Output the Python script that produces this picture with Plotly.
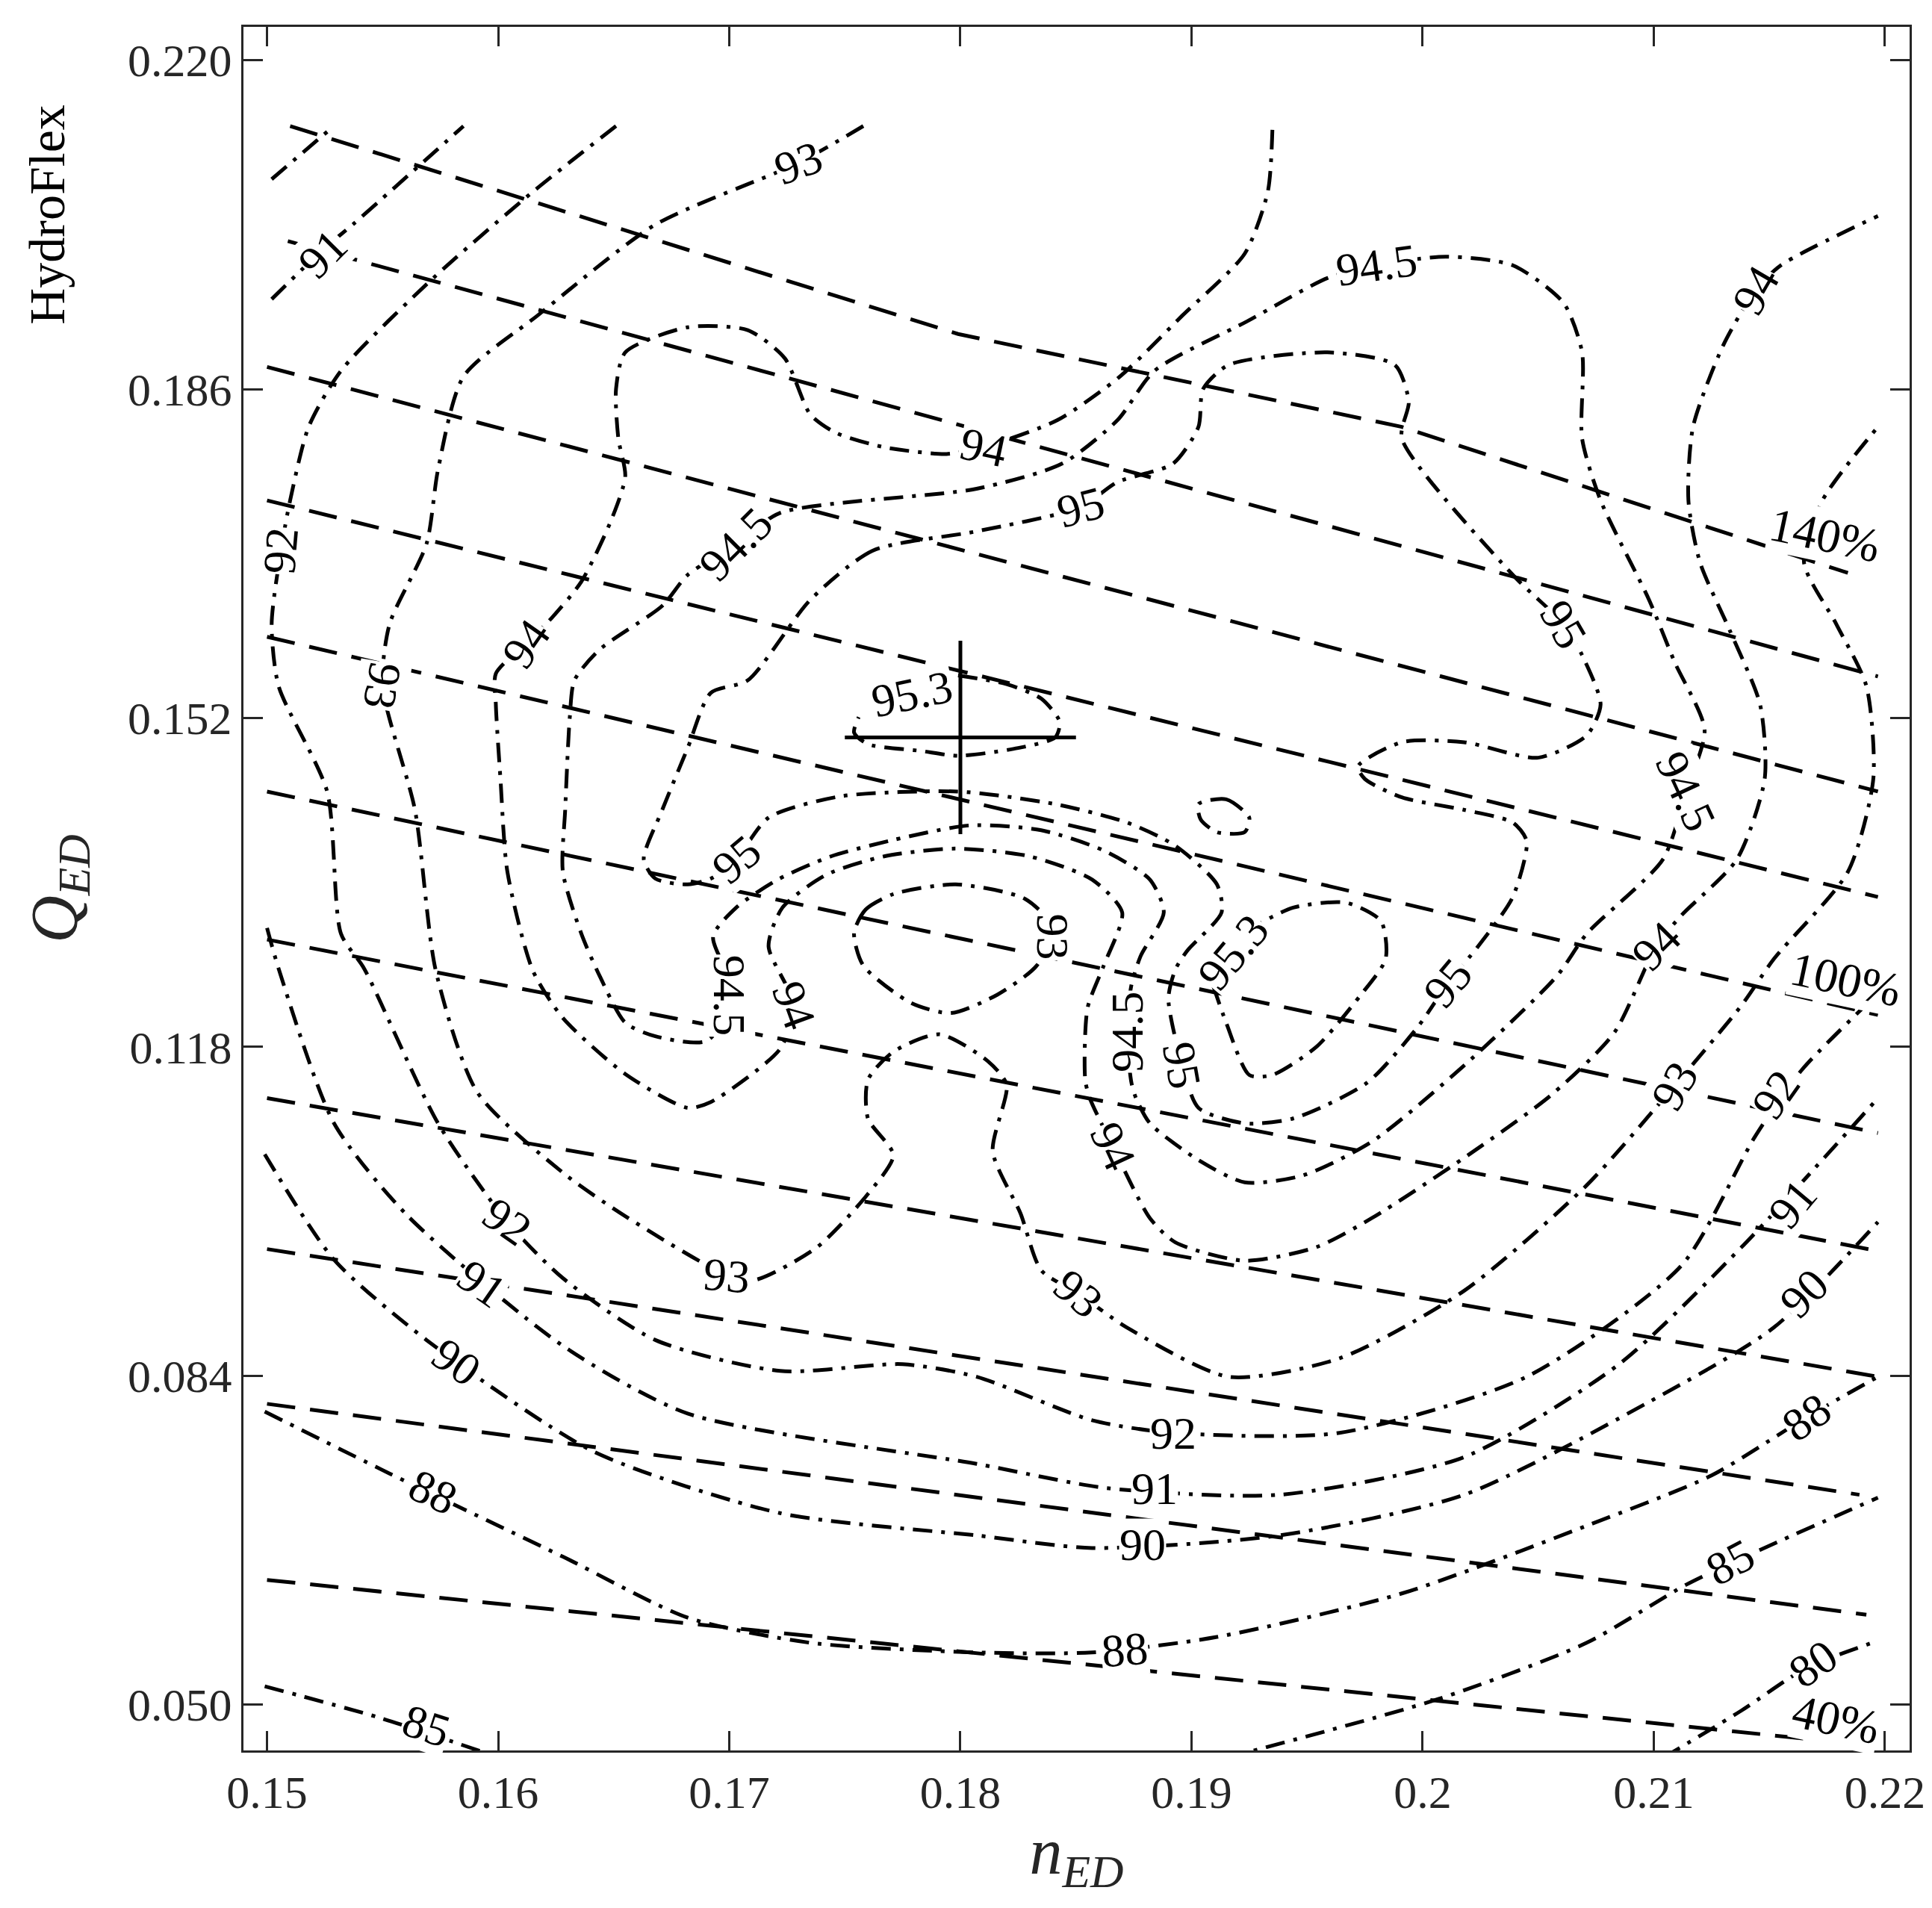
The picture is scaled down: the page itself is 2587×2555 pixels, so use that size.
import plotly.graph_objects as go

# ---- data ----
x_ticks = [0.15, 0.16, 0.17, 0.18, 0.19, 0.20, 0.21, 0.22]
x_tick_text = ["0.15", "0.16", "0.17", "0.18", "0.19", "0.2", "0.21", "0.22"]
y_ticks = [0.050, 0.084, 0.118, 0.152, 0.186, 0.220]

# guide vane opening lines (dashed)
opening_x = [
    [0.1510, 0.1799, 0.1991, 0.2138, 0.2184],
    [0.1509, 0.2197],
    [0.1500, 0.2197],
    [0.1500, 0.2197],
    [0.1500, 0.2197],
    [0.1500, 0.2197],
    [0.1500, 0.2197],
    [0.1500, 0.2197],
    [0.1500, 0.2189],
    [0.1500, 0.2192],
    [0.1500, 0.2193],
]
opening_y = [
    [0.2132, 0.1917, 0.1821, 0.1706, 0.1670],
    [0.2013, 0.1563],
    [0.1883, 0.1444],
    [0.1745, 0.1335],
    [0.1604, 0.1213],
    [0.1444, 0.1091],
    [0.1291, 0.0969],
    [0.1127, 0.0839],
    [0.0971, 0.0717],
    [0.0811, 0.0593],
    [0.0629, 0.0458],
]
opening_labels = ["140%", "100%", "40%"]
opening_label_x = [0.2174, 0.2183, 0.2179]
opening_label_y = [0.1709, 0.1250, 0.0485]

# efficiency contours (dash-dot)
eff_x = {
    "85a": [0.1499, 0.1548, 0.1596],
    "85b": [0.1915, 0.2007, 0.2071, 0.2114, 0.2146, 0.2197],
    "80": [0.2104, 0.2138, 0.2166, 0.2197],
    "88": [0.1499, 0.1553, 0.1628, 0.1682, 0.1735, 0.1807, 0.1857, 0.1911, 0.1991,
           0.2071, 0.2125, 0.2166, 0.2197],
    "90": [0.1499, 0.1529, 0.1569, 0.1641, 0.1722, 0.1807, 0.1857, 0.1938, 0.2018,
           0.2098, 0.2152, 0.2197],
    "90top": [0.1502, 0.1524, 0.1528],
    "91": [0.1500, 0.1505, 0.1529, 0.1561, 0.1628, 0.1682, 0.1807, 0.1863, 0.1938,
           0.2018, 0.2085, 0.2138, 0.2197],
    "91top": [0.1502, 0.1524, 0.1537, 0.1585],
    "92": [0.1651, 0.1615, 0.1572, 0.1532, 0.1518, 0.1510, 0.1506, 0.1502, 0.1505,
           0.1526, 0.1532, 0.1542, 0.1574, 0.1604, 0.1628, 0.1668, 0.1722, 0.1775,
           0.1807, 0.1857, 0.1892, 0.1964, 0.2045, 0.2112, 0.2144, 0.2164, 0.2196],
    "93": [0.1758, 0.1730, 0.1668, 0.1617, 0.1585, 0.1574, 0.1569, 0.1553, 0.1550,
           0.1564, 0.1573, 0.1591, 0.1628, 0.1655, 0.1699, 0.1711, 0.1738, 0.1760,
           0.1771, 0.1760, 0.1760, 0.1771, 0.1791, 0.1812, 0.1820, 0.1814, 0.1826,
           0.1835, 0.1851, 0.1872, 0.1916, 0.1964, 0.2018, 0.2071, 0.2109, 0.2138,
           0.2152, 0.2184, 0.2195, 0.2192, 0.2179, 0.2165, 0.2173, 0.2197],
    "93in": [0.1754, 0.1759, 0.1771, 0.1798, 0.1828, 0.1840, 0.1833, 0.1816, 0.1796,
             0.1779, 0.1758, 0.1754],
    "94": [0.1935, 0.1933, 0.1923, 0.1896, 0.1869, 0.1842, 0.1810, 0.1794, 0.1767,
           0.1746, 0.1735, 0.1724, 0.1708, 0.1682, 0.1655, 0.1651, 0.1652, 0.1655,
           0.1649, 0.1636, 0.1623, 0.1612, 0.1599, 0.1599, 0.1601, 0.1604, 0.1615,
           0.1628, 0.1655, 0.1682, 0.1692, 0.1722, 0.1728, 0.1717, 0.1723, 0.1742,
           0.1767, 0.1798, 0.1830, 0.1857, 0.1870, 0.1862, 0.1855, 0.1854, 0.1856,
           0.1866, 0.1882, 0.1893, 0.1923, 0.1954, 0.1978, 0.2019, 0.2056, 0.2083,
           0.2101, 0.2112, 0.2136, 0.2148, 0.2146, 0.2133, 0.2120, 0.2115, 0.2117,
           0.2130, 0.2144, 0.2155, 0.2197],
    "94.5": [0.1682, 0.1671, 0.1644, 0.1633, 0.1631, 0.1629, 0.1628, 0.1636, 0.1644,
             0.1655, 0.1668, 0.1690, 0.1703, 0.1693, 0.1703, 0.1721, 0.1744, 0.1771,
             0.1804, 0.1835, 0.1862, 0.1882, 0.1888, 0.1878, 0.1874, 0.1872, 0.1874,
             0.1876, 0.1882, 0.1903, 0.1923, 0.1948, 0.1978, 0.2019, 0.2058, 0.2071,
             0.2104, 0.2114, 0.2122, 0.2109, 0.2098, 0.2077, 0.2069, 0.2069, 0.2061,
             0.2039, 0.2010, 0.1980, 0.1959, 0.1924, 0.1884, 0.1868, 0.1844, 0.1807,
             0.1722, 0.1703, 0.1682],
    "95": [0.1807, 0.1762, 0.1735, 0.1708, 0.1692, 0.1682, 0.1671, 0.1663, 0.1668,
           0.1682, 0.1692, 0.1703, 0.1717, 0.1748, 0.1799, 0.1841, 0.1872, 0.1893,
           0.1911, 0.1913, 0.1898, 0.1893, 0.1890, 0.1896, 0.1903, 0.1923, 0.1944,
           0.1976, 0.1998, 0.2011, 0.2024, 0.2039, 0.2045, 0.2039, 0.2018, 0.1991,
           0.1975, 0.1972, 0.1991, 0.2018, 0.2050, 0.2071, 0.2077, 0.2069, 0.2061,
           0.2039, 0.1991, 0.1994, 0.1988, 0.1959, 0.1916, 0.1905, 0.1903, 0.1892,
           0.1868, 0.1852, 0.1807],
    "95.3a": [0.1799, 0.1820, 0.1835, 0.1843, 0.1841, 0.1825, 0.1799, 0.1783, 0.1760,
              0.1754, 0.1756],
    "95.3b": [0.1923, 0.1944, 0.1967, 0.1982, 0.1984, 0.1973, 0.1954, 0.1935, 0.1925,
              0.1915, 0.1909],
    "95.3c": [0.1903, 0.1915, 0.1925, 0.1923, 0.1911, 0.1904, 0.1903],
}
eff_y = {
    "85a": [0.0519, 0.0487, 0.0449],
    "85b": [0.0445, 0.0506, 0.0564, 0.0624, 0.0660, 0.0714],
    "80": [0.0445, 0.0494, 0.0538, 0.0566],
    "88": [0.0803, 0.0739, 0.0653, 0.0590, 0.0564, 0.0554, 0.0554, 0.0570, 0.0615,
           0.0685, 0.0737, 0.0797, 0.0839],
    "90": [0.1069, 0.0960, 0.0877, 0.0762, 0.0698, 0.0675, 0.0662, 0.0675, 0.0717,
           0.0813, 0.0890, 0.0999],
    "90top": [0.2077, 0.2122, 0.2130],
    "91": [0.1303, 0.1261, 0.1101, 0.1005, 0.0871, 0.0801, 0.0749, 0.0724, 0.0717,
           0.0756, 0.0852, 0.0973, 0.1127],
    "91top": [0.1953, 0.2004, 0.2030, 0.2132],
    "92": [0.2132, 0.2064, 0.1975, 0.1879, 0.1821, 0.1745, 0.1693, 0.1617, 0.1553,
           0.1444, 0.1297, 0.1261, 0.1101, 0.0999, 0.0941, 0.0877, 0.0845, 0.0852,
           0.0839, 0.0794, 0.0781, 0.0781, 0.0839, 0.0954, 0.1088, 0.1156, 0.1233],
    "93": [0.2132, 0.2094, 0.2030, 0.1936, 0.1873, 0.1777, 0.1700, 0.1617, 0.1553,
           0.1425, 0.1259, 0.1133, 0.1050, 0.1005, 0.0944, 0.0939, 0.0973, 0.1028,
           0.1068, 0.1106, 0.1146, 0.1175, 0.1193, 0.1165, 0.1141, 0.1072, 0.1008,
           0.0949, 0.0925, 0.0890, 0.0839, 0.0858, 0.0928, 0.1037, 0.1140, 0.1223,
           0.1271, 0.1361, 0.1457, 0.1553, 0.1617, 0.1681, 0.1745, 0.1821],
    "93in": [0.1298, 0.1322, 0.1338, 0.1348, 0.1333, 0.1303, 0.1264, 0.1234, 0.1215,
             0.1225, 0.1264, 0.1298],
    "94": [0.2128, 0.2064, 0.2000, 0.1936, 0.1873, 0.1828, 0.1800, 0.1793, 0.1800,
           0.1815, 0.1834, 0.1892, 0.1921, 0.1924, 0.1898, 0.1860, 0.1809, 0.1770,
           0.1725, 0.1661, 0.1623, 0.1597, 0.1566, 0.1534, 0.1457, 0.1361, 0.1259,
           0.1210, 0.1152, 0.1117, 0.1123, 0.1178, 0.1223, 0.1284, 0.1324, 0.1358,
           0.1377, 0.1385, 0.1377, 0.1353, 0.1319, 0.1264, 0.1220, 0.1146, 0.1127,
           0.1077, 0.1003, 0.0978, 0.0959, 0.0973, 0.1003, 0.1067, 0.1131, 0.1195,
           0.1284, 0.1316, 0.1374, 0.1457, 0.1534, 0.1610, 0.1681, 0.1745, 0.1821,
           0.1905, 0.1962, 0.1988, 0.2039],
    "94.5": [0.1668, 0.1636, 0.1591, 0.1559, 0.1521, 0.1425, 0.1361, 0.1297, 0.1253,
             0.1205, 0.1191, 0.1186, 0.1230, 0.1294, 0.1324, 0.1353, 0.1377, 0.1394,
             0.1409, 0.1404, 0.1383, 0.1353, 0.1319, 0.1274, 0.1244, 0.1196, 0.1143,
             0.1127, 0.1101, 0.1063, 0.1040, 0.1047, 0.1082, 0.1163, 0.1253, 0.1297,
             0.1374, 0.1444, 0.1508, 0.1578, 0.1642, 0.1745, 0.1809, 0.1898, 0.1949,
             0.1988, 0.1997, 0.1988, 0.1975, 0.1930, 0.1879, 0.1828, 0.1783, 0.1757,
             0.1732, 0.1700, 0.1668],
    "95": [0.1713, 0.1693, 0.1642, 0.1559, 0.1546, 0.1489, 0.1425, 0.1374, 0.1354,
           0.1348, 0.1354, 0.1374, 0.1417, 0.1439, 0.1444, 0.1431, 0.1412, 0.1388,
           0.1348, 0.1319, 0.1279, 0.1260, 0.1230, 0.1161, 0.1117, 0.1101, 0.1106,
           0.1143, 0.1201, 0.1246, 0.1284, 0.1335, 0.1393, 0.1412, 0.1425, 0.1438,
           0.1457, 0.1470, 0.1495, 0.1495, 0.1479, 0.1502, 0.1534, 0.1585, 0.1617,
           0.1668, 0.1809, 0.1847, 0.1885, 0.1898, 0.1885, 0.1860, 0.1821, 0.1783,
           0.1764, 0.1738, 0.1713],
    "95.3a": [0.1564, 0.1555, 0.1540, 0.1516, 0.1500, 0.1489, 0.1481, 0.1486, 0.1493,
              0.1505, 0.1521],
    "95.3b": [0.1299, 0.1324, 0.1329, 0.1310, 0.1271, 0.1233, 0.1180, 0.1151, 0.1151,
              0.1205, 0.1246],
    "95.3c": [0.1431, 0.1436, 0.1417, 0.1402, 0.1402, 0.1415, 0.1431],
}

# inline contour labels: text, nED, QED, rotation
label_text = ["85", "85", "80", "88", "88", "88", "90", "90", "90", "91", "91", "91",
              "91", "92", "92", "92", "92", "93", "93", "93", "93", "93", "93",
              "94", "94", "94", "94", "94", "94", "94.5", "94.5", "94.5", "94.5",
              "94.5", "95", "95", "95", "95", "95", "95.3", "95.3"]
label_x = [0.1569, 0.2133, 0.2169, 0.1572, 0.1871, 0.2166, 0.1582, 0.1879, 0.2165,
           0.1593, 0.1884, 0.2160, 0.1524, 0.1506, 0.1604, 0.1892, 0.2153, 0.1730,
           0.1550, 0.1699, 0.1851, 0.2109, 0.1840, 0.1810, 0.1612, 0.1728, 0.1866,
           0.2101, 0.2144, 0.1980, 0.1703, 0.1700, 0.1872, 0.2114, 0.1852, 0.1703,
           0.1896, 0.2011, 0.2061, 0.1779, 0.1918]
label_y = [0.0478, 0.0647, 0.0542, 0.0720, 0.0557, 0.0797, 0.0854, 0.0666, 0.0925,
           0.0935, 0.0724, 0.1018, 0.2000, 0.1693, 0.0999, 0.0781, 0.1131, 0.2094,
           0.1553, 0.0944, 0.0925, 0.1140, 0.1294, 0.1800, 0.1597, 0.1223, 0.1077,
           0.1284, 0.1962, 0.1988, 0.1700, 0.1233, 0.1196, 0.1444, 0.1738, 0.1374,
           0.1161, 0.1246, 0.1617, 0.1545, 0.1278]
label_angle = [18, -28, -35, 25, -5, -35, 35, 0, -45, 35, 0, -50, -45, -85, 35, 0,
               -55, -20, 100, 5, 40, -60, 90, 12, -55, 70, 65, -45, -60, -8, -45,
               90, -90, 65, -15, -40, 80, -50, 60, -12, -50]

bep_x, bep_y = 0.180, 0.150
bep_dx, bep_dy = 0.005, 0.010

serif = "Liberation Serif"
dash = "38px,20px"
dashdot = "26px,12px,5px,12px"

fig = go.Figure()

for xs, ys in zip(opening_x, opening_y):
    fig.add_trace(go.Scatter(x=xs, y=ys, mode="lines", showlegend=False,
                             line=dict(color="black", width=5, dash=dash)))

for key in eff_x:
    fig.add_trace(go.Scatter(x=eff_x[key], y=eff_y[key], mode="lines", showlegend=False,
                             line=dict(color="black", width=5, dash=dashdot,
                                       shape="spline", smoothing=0.7)))

# best efficiency point cross
fig.add_trace(go.Scatter(x=[bep_x - bep_dx, bep_x + bep_dx, None, bep_x, bep_x],
                         y=[bep_y, bep_y, None, bep_y - bep_dy, bep_y + bep_dy],
                         mode="lines", showlegend=False,
                         line=dict(color="black", width=5)))

for t, x, y, a in zip(label_text, label_x, label_y, label_angle):
    fig.add_annotation(x=x, y=y, text=t, textangle=a, showarrow=False,
                       bgcolor="white", borderpad=0,
                       font=dict(family=serif, size=62, color="black"))

for t, x, y in zip(opening_labels, opening_label_x, opening_label_y):
    fig.add_annotation(x=x, y=y, text=t, textangle=12, showarrow=False,
                       bgcolor="white", borderpad=0,
                       font=dict(family=serif, size=64, color="black"))

fig.add_annotation(xref="paper", yref="paper", x=-0.118, y=0.956, xanchor="center",
                   yanchor="top", text="HydroFlex", textangle=-90, showarrow=False,
                   font=dict(family=serif, size=68, color="black"))

axis_common = dict(showgrid=False, zeroline=False, ticks="inside", ticklen=26,
                   tickwidth=3, tickcolor="#262626", showline=True, linewidth=3,
                   linecolor="#262626", mirror="ticks",
                   tickfont=dict(family=serif, size=62, color="#262626"))

fig.update_xaxes(range=[0.14898, 0.22107], tickvals=x_ticks, ticktext=x_tick_text,
                 title=dict(text="<i>n</i><sub><i>ED</i></sub>", standoff=14,
                            font=dict(family=serif, size=88, color="#262626")),
                 **axis_common)
fig.update_yaxes(range=[0.04527, 0.22345], tickvals=y_ticks, tickformat=".3f",
                 title=dict(text="<i>Q</i><sub><i>ED</i></sub>", standoff=40,
                            font=dict(family=serif, size=88, color="#262626")),
                 **axis_common)

fig.update_layout(width=2587, height=2555, plot_bgcolor="white", paper_bgcolor="white",
                  margin=dict(l=318, r=38, t=28, b=219))

fig.write_html("out.html")
